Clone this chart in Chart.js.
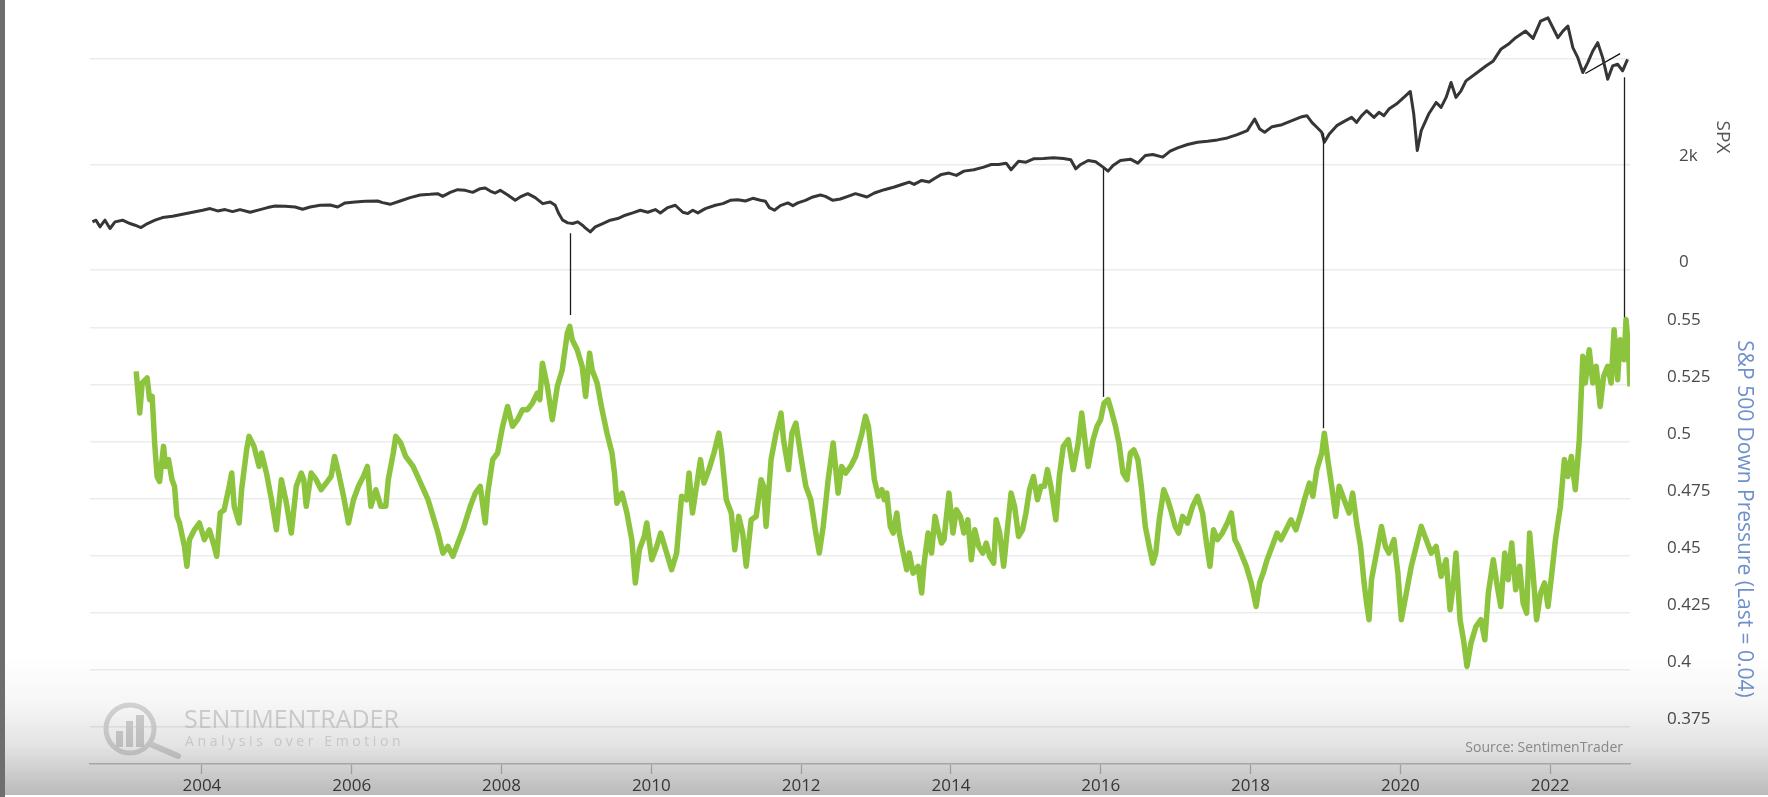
<!DOCTYPE html>
<html>
<head>
<meta charset="utf-8">
<title>SPX vs S&amp;P 500 Down Pressure</title>
<script src="https://cdn.jsdelivr.net/npm/chart.js@4.4.1/dist/chart.umd.min.js"></script>
<style>
html, body { margin: 0; padding: 0; background: #fff; }
#wrap { position: relative; width: 1768px; height: 797px; overflow: hidden; }
#chart-box { position: absolute; left: 0; top: 0; width: 1768px; height: 797px; }
#shade {
    position: absolute; left: 0; top: 655px; width: 1768px; height: 140px; pointer-events: none;
    background: linear-gradient(to bottom, rgba(0,0,0,0) 0%, rgba(0,0,0,0.035) 35%, rgba(0,0,0,0.11) 65%, rgba(0,0,0,0.27) 100%);
}
#edge { position: absolute; left: 0; top: 0; width: 5px; height: 797px; background: #6e6e6e; }
</style>
</head>
<body>
<div id="wrap">
    <div id="chart-box"><canvas id="chart"></canvas></div>
    <div id="shade"></div>
    <div id="edge"></div>
</div>
<script>
// x axis: decimal years
const yearTicks = [2004, 2006, 2008, 2010, 2012, 2014, 2016, 2018, 2020, 2022];

const spxTicks = [0, 2000, 4000];
const spxTickLabels = ["0", "2k", ""];

const pressureTicks = [0.375, 0.4, 0.425, 0.45, 0.475, 0.5, 0.525, 0.55];

// SPX
const spxYears = [
    2002.539, 2002.586, 2002.639, 2002.706, 2002.773, 2002.840, 2002.940, 2003.040, 2003.107, 2003.187,
    2003.274, 2003.374, 2003.474, 2003.608, 2003.741, 2003.875, 2004.009, 2004.109, 2004.209, 2004.309,
    2004.409, 2004.509, 2004.643, 2004.777, 2004.877, 2004.977, 2005.111, 2005.244, 2005.344, 2005.445,
    2005.578, 2005.712, 2005.812, 2005.912, 2006.046, 2006.179, 2006.346, 2006.413, 2006.513, 2006.647,
    2006.780, 2006.914, 2007.048, 2007.148, 2007.214, 2007.315, 2007.415, 2007.515, 2007.615, 2007.715,
    2007.782, 2007.849, 2007.916, 2007.983, 2008.083, 2008.183, 2008.250, 2008.350, 2008.450, 2008.550,
    2008.650, 2008.717, 2008.764, 2008.817, 2008.884, 2008.951, 2009.018, 2009.085, 2009.118, 2009.185,
    2009.252, 2009.352, 2009.452, 2009.552, 2009.652, 2009.752, 2009.853, 2009.953, 2010.053, 2010.120,
    2010.220, 2010.320, 2010.420, 2010.487, 2010.554, 2010.621, 2010.721, 2010.855, 2010.955, 2011.055,
    2011.155, 2011.255, 2011.355, 2011.456, 2011.523, 2011.576, 2011.643, 2011.723, 2011.823, 2011.890,
    2011.957, 2012.057, 2012.157, 2012.257, 2012.324, 2012.424, 2012.524, 2012.625, 2012.725, 2012.879,
    2012.978, 2013.111, 2013.244, 2013.376, 2013.443, 2013.509, 2013.609, 2013.708, 2013.775, 2013.874,
    2013.974, 2014.073, 2014.173, 2014.306, 2014.438, 2014.538, 2014.637, 2014.737, 2014.803, 2014.903,
    2015.002, 2015.102, 2015.235, 2015.367, 2015.500, 2015.600, 2015.666, 2015.733, 2015.832, 2015.932,
    2016.031, 2016.098, 2016.164, 2016.263, 2016.396, 2016.496, 2016.595, 2016.695, 2016.828, 2016.927,
    2017.027, 2017.159, 2017.292, 2017.425, 2017.558, 2017.690, 2017.823, 2017.956, 2018.055, 2018.122,
    2018.188, 2018.288, 2018.420, 2018.553, 2018.686, 2018.752, 2018.819, 2018.885, 2018.951, 2018.985,
    2019.051, 2019.151, 2019.250, 2019.350, 2019.416, 2019.483, 2019.549, 2019.648, 2019.715, 2019.781,
    2019.847, 2019.947, 2020.047, 2020.133, 2020.179, 2020.226, 2020.279, 2020.378, 2020.478, 2020.544,
    2020.611, 2020.677, 2020.743, 2020.810, 2020.876, 2021.009, 2021.142, 2021.241, 2021.341, 2021.440,
    2021.540, 2021.672, 2021.772, 2021.872, 2021.971, 2022.037, 2022.104, 2022.170, 2022.237, 2022.303,
    2022.369, 2022.436, 2022.502, 2022.569, 2022.635, 2022.701, 2022.768, 2022.834, 2022.901, 2022.967,
    2023.033
];
const spxValues = [
    912, 944, 818, 944, 786, 912, 944, 881, 849, 805,
    881, 944, 994, 1019, 1057, 1094, 1132, 1164, 1120, 1145,
    1107, 1145, 1094, 1145, 1183, 1214, 1208, 1195, 1151, 1195,
    1227, 1233, 1195, 1271, 1289, 1302, 1308, 1277, 1245, 1308,
    1371, 1422, 1434, 1447, 1396, 1472, 1522, 1510, 1472, 1541,
    1554, 1497, 1459, 1510, 1422, 1321, 1384, 1447, 1371, 1258,
    1289, 1227, 1069, 944, 893, 881, 912, 843, 799, 723,
    818, 881, 944, 975, 1038, 1082, 1132, 1094, 1145, 1082,
    1183, 1227, 1094, 1069, 1132, 1082, 1164, 1227, 1258, 1321,
    1333, 1308, 1359, 1321, 1302, 1183, 1132, 1220, 1271, 1220,
    1271, 1321, 1384, 1422, 1396, 1321, 1346, 1396, 1447, 1384,
    1459, 1522, 1573, 1635, 1667, 1623, 1698, 1667, 1730, 1812,
    1837, 1793, 1874, 1900, 1950, 2000, 2000, 2025, 1900, 2063,
    2044, 2107, 2113, 2126, 2113, 2088, 1918, 2000, 2076, 2051,
    1950, 1874, 1981, 2076, 2101, 2025, 2170, 2189, 2139, 2252,
    2315, 2378, 2422, 2441, 2466, 2503, 2566, 2642, 2862, 2673,
    2610, 2717, 2755, 2831, 2906, 2925, 2799, 2705, 2610, 2422,
    2579, 2736, 2818, 2893, 2799, 2925, 3019, 2893, 2988, 2925,
    3051, 3145, 3271, 3384, 2956, 2264, 2642, 2956, 3176, 3082,
    3271, 3554, 3271, 3397, 3585, 3724, 3868, 3963, 4183, 4277,
    4403, 4529, 4390, 4718, 4780, 4592, 4403, 4529, 4623, 4214,
    4026, 3743, 3931, 4151, 4309, 4026, 3617, 3868, 3900, 3774,
    3994
];

// short trend segment drawn on SPX near the end
const trendYears = [2022.469, 2022.934];
const trendValues = [3724, 4101];

// S&P 500 Down Pressure
const pressureYears = [
    2003.123, 2003.170, 2003.203, 2003.269, 2003.302, 2003.336, 2003.369, 2003.402, 2003.435, 2003.488,
    2003.515, 2003.555, 2003.601, 2003.634, 2003.667, 2003.701, 2003.767, 2003.800, 2003.833, 2003.900,
    2003.966, 2004.033, 2004.099, 2004.165, 2004.198, 2004.245, 2004.298, 2004.364, 2004.398, 2004.431,
    2004.497, 2004.530, 2004.597, 2004.630, 2004.696, 2004.763, 2004.796, 2004.862, 2004.929, 2004.995,
    2005.061, 2005.128, 2005.194, 2005.260, 2005.327, 2005.360, 2005.393, 2005.459, 2005.526, 2005.592,
    2005.659, 2005.725, 2005.771, 2005.825, 2005.891, 2005.957, 2006.024, 2006.090, 2006.156, 2006.209,
    2006.256, 2006.322, 2006.389, 2006.455, 2006.488, 2006.555, 2006.588, 2006.654, 2006.720, 2006.820,
    2006.920, 2007.019, 2007.086, 2007.152, 2007.218, 2007.285, 2007.351, 2007.417, 2007.484, 2007.583,
    2007.650, 2007.716, 2007.782, 2007.816, 2007.882, 2007.948, 2008.015, 2008.081, 2008.147, 2008.214,
    2008.280, 2008.346, 2008.413, 2008.479, 2008.512, 2008.546, 2008.612, 2008.678, 2008.745, 2008.811,
    2008.878, 2008.911, 2008.944, 2009.010, 2009.077, 2009.123, 2009.176, 2009.209, 2009.276, 2009.342,
    2009.408, 2009.475, 2009.508, 2009.541, 2009.608, 2009.674, 2009.740, 2009.787, 2009.840, 2009.906,
    2009.939, 2010.006, 2010.072, 2010.125, 2010.205, 2010.271, 2010.338, 2010.404, 2010.470, 2010.504,
    2010.550, 2010.603, 2010.656, 2010.703, 2010.769, 2010.836, 2010.902, 2010.935, 2011.001, 2011.068,
    2011.114, 2011.167, 2011.220, 2011.267, 2011.333, 2011.400, 2011.466, 2011.499, 2011.532, 2011.599,
    2011.665, 2011.731, 2011.765, 2011.831, 2011.877, 2011.930, 2011.997, 2012.063, 2012.129, 2012.196,
    2012.242, 2012.295, 2012.361, 2012.428, 2012.494, 2012.541, 2012.594, 2012.660, 2012.727, 2012.812,
    2012.859, 2012.898, 2012.945, 2012.978, 2013.031, 2013.078, 2013.111, 2013.144, 2013.190, 2013.230,
    2013.277, 2013.310, 2013.363, 2013.410, 2013.443, 2013.496, 2013.562, 2013.609, 2013.642, 2013.695,
    2013.741, 2013.788, 2013.828, 2013.874, 2013.907, 2013.974, 2014.027, 2014.073, 2014.126, 2014.173,
    2014.226, 2014.272, 2014.319, 2014.372, 2014.425, 2014.471, 2014.518, 2014.571, 2014.604, 2014.651,
    2014.704, 2014.757, 2014.803, 2014.850, 2014.903, 2014.956, 2015.002, 2015.049, 2015.102, 2015.155,
    2015.201, 2015.248, 2015.288, 2015.334, 2015.401, 2015.447, 2015.500, 2015.567, 2015.633, 2015.699,
    2015.746, 2015.799, 2015.832, 2015.898, 2015.951, 2015.998, 2016.044, 2016.098, 2016.151, 2016.197,
    2016.243, 2016.297, 2016.350, 2016.396, 2016.442, 2016.496, 2016.542, 2016.595, 2016.648, 2016.695,
    2016.735, 2016.781, 2016.841, 2016.894, 2016.947, 2016.993, 2017.040, 2017.093, 2017.159, 2017.226,
    2017.292, 2017.359, 2017.412, 2017.458, 2017.505, 2017.558, 2017.624, 2017.690, 2017.743, 2017.790,
    2017.836, 2017.889, 2017.943, 2018.009, 2018.075, 2018.122, 2018.168, 2018.221, 2018.288, 2018.354,
    2018.407, 2018.473, 2018.540, 2018.606, 2018.673, 2018.719, 2018.786, 2018.832, 2018.885, 2018.951,
    2018.985, 2019.031, 2019.084, 2019.137, 2019.183, 2019.250, 2019.316, 2019.363, 2019.416, 2019.469,
    2019.516, 2019.549, 2019.582, 2019.615, 2019.682, 2019.748, 2019.801, 2019.847, 2019.914, 2019.967,
    2020.013, 2020.080, 2020.146, 2020.212, 2020.279, 2020.345, 2020.412, 2020.478, 2020.544, 2020.611,
    2020.664, 2020.710, 2020.743, 2020.797, 2020.843, 2020.890, 2020.943, 2021.009, 2021.075, 2021.128,
    2021.175, 2021.241, 2021.294, 2021.341, 2021.394, 2021.440, 2021.487, 2021.540, 2021.593, 2021.639,
    2021.686, 2021.726, 2021.772, 2021.819, 2021.872, 2021.925, 2021.971, 2022.018, 2022.071, 2022.137,
    2022.190, 2022.237, 2022.283, 2022.336, 2022.389, 2022.436, 2022.469, 2022.522, 2022.569, 2022.615,
    2022.668, 2022.714, 2022.768, 2022.814, 2022.854, 2022.901, 2022.934, 2022.987, 2023.013, 2023.046,
    2023.066
];
const pressureValues = [
    0.5310, 0.5127, 0.5259, 0.5281, 0.5186, 0.5200, 0.4996, 0.4849, 0.4827, 0.4981,
    0.4893, 0.4923, 0.4835, 0.4806, 0.4674, 0.4645, 0.4542, 0.4455, 0.4572, 0.4615,
    0.4645, 0.4572, 0.4615, 0.4542, 0.4499, 0.4689, 0.4703, 0.4806, 0.4864, 0.4718,
    0.4645, 0.4791, 0.4966, 0.5025, 0.4981, 0.4893, 0.4952, 0.4864, 0.4747, 0.4615,
    0.4835, 0.4732, 0.4601, 0.4806, 0.4864, 0.4835, 0.4718, 0.4864, 0.4835, 0.4791,
    0.4820, 0.4849, 0.4937, 0.4864, 0.4762, 0.4645, 0.4747, 0.4806, 0.4849, 0.4893,
    0.4718, 0.4791, 0.4718, 0.4718, 0.4835, 0.4952, 0.5025, 0.4996, 0.4937, 0.4893,
    0.4820, 0.4747, 0.4674, 0.4601, 0.4513, 0.4542, 0.4499, 0.4557, 0.4615, 0.4718,
    0.4776, 0.4806, 0.4645, 0.4776, 0.4923, 0.4952, 0.5069, 0.5156, 0.5069, 0.5098,
    0.5142, 0.5142, 0.5171, 0.5215, 0.5186, 0.5346, 0.5244, 0.5098, 0.5244, 0.5317,
    0.5478, 0.5507, 0.5449, 0.5405, 0.5332, 0.5200, 0.5390, 0.5317, 0.5259, 0.5142,
    0.5039, 0.4952, 0.4864, 0.4732, 0.4776, 0.4689, 0.4572, 0.4382, 0.4528, 0.4586,
    0.4645, 0.4484, 0.4542, 0.4601, 0.4513, 0.4440, 0.4513, 0.4762, 0.4747, 0.4864,
    0.4689, 0.4806, 0.4923, 0.4820, 0.4879, 0.4952, 0.5039, 0.4966, 0.4747, 0.4689,
    0.4528, 0.4674, 0.4601, 0.4455, 0.4659, 0.4674, 0.4835, 0.4806, 0.4630, 0.4923,
    0.5039, 0.5127, 0.5010, 0.4879, 0.5039, 0.5083, 0.4937, 0.4806, 0.4747, 0.4601,
    0.4513, 0.4630, 0.4835, 0.4996, 0.4776, 0.4893, 0.4864, 0.4893, 0.4937, 0.5039,
    0.5113, 0.5069, 0.4937, 0.4835, 0.4762, 0.4791, 0.4747, 0.4776, 0.4630, 0.4601,
    0.4689, 0.4601, 0.4513, 0.4440, 0.4513, 0.4425, 0.4455, 0.4338, 0.4469, 0.4601,
    0.4513, 0.4674, 0.4615, 0.4557, 0.4572, 0.4776, 0.4601, 0.4703, 0.4674, 0.4601,
    0.4659, 0.4484, 0.4615, 0.4542, 0.4513, 0.4557, 0.4499, 0.4469, 0.4659, 0.4601,
    0.4455, 0.4630, 0.4776, 0.4718, 0.4586, 0.4615, 0.4689, 0.4791, 0.4849, 0.4747,
    0.4806, 0.4806, 0.4879, 0.4806, 0.4659, 0.4849, 0.4981, 0.5010, 0.4879, 0.4996,
    0.5127, 0.4981, 0.4893, 0.5010, 0.5069, 0.5098, 0.5171, 0.5186, 0.5127, 0.5069,
    0.4996, 0.4864, 0.4835, 0.4952, 0.4966, 0.4923, 0.4806, 0.4630, 0.4542, 0.4469,
    0.4513, 0.4659, 0.4791, 0.4747, 0.4689, 0.4630, 0.4601, 0.4674, 0.4645, 0.4718,
    0.4762, 0.4689, 0.4557, 0.4455, 0.4615, 0.4572, 0.4601, 0.4645, 0.4689, 0.4572,
    0.4542, 0.4499, 0.4455, 0.4382, 0.4279, 0.4382, 0.4425, 0.4484, 0.4542, 0.4601,
    0.4572, 0.4615, 0.4659, 0.4615, 0.4689, 0.4747, 0.4820, 0.4762, 0.4879, 0.4952,
    0.5039, 0.4923, 0.4806, 0.4674, 0.4806, 0.4747, 0.4689, 0.4776, 0.4645, 0.4542,
    0.4382, 0.4294, 0.4221, 0.4396, 0.4513, 0.4630, 0.4542, 0.4513, 0.4572, 0.4425,
    0.4221, 0.4338, 0.4455, 0.4542, 0.4630, 0.4572, 0.4513, 0.4542, 0.4411, 0.4484,
    0.4265, 0.4382, 0.4513, 0.4221, 0.4133, 0.4016, 0.4118, 0.4191, 0.4221, 0.4133,
    0.4338, 0.4484, 0.4367, 0.4279, 0.4513, 0.4396, 0.4557, 0.4352, 0.4455, 0.4294,
    0.4250, 0.4601, 0.4425, 0.4221, 0.4338, 0.4382, 0.4279, 0.4411, 0.4572, 0.4718,
    0.4923, 0.4849, 0.4937, 0.4791, 0.5010, 0.5376, 0.5259, 0.5405, 0.5259, 0.5332,
    0.5156, 0.5288, 0.5332, 0.5259, 0.5493, 0.5273, 0.5449, 0.5361, 0.5537, 0.5405,
    0.5244
];

// vertical connector lines: year, where they leave SPX, where they meet the pressure line
const markerYears = [2008.91, 2016.03, 2018.97, 2022.98];
const markerSpx = [696, 1928, 2590, 3653];
const markerPressure = [0.5557, 0.5198, 0.5060, 0.5547];

const FONT = "'Open Sans', 'Noto Sans', sans-serif";


function toPoints(xs, ys) {
    return xs.map((x, i) => ({x: x, y: ys[i]}));
}


const connectorLines = {
    id: "connectorLines",
    afterDatasetsDraw(chart) {
        const ctx = chart.ctx;
        const sx = chart.scales.x;
        ctx.save();
        ctx.strokeStyle = "#1e1e1e";
        ctx.lineWidth = 1.3;
        markerYears.forEach((yr, i) => {
            const px = Math.round(sx.getPixelForValue(yr)) + 0.5;
            ctx.beginPath();
            ctx.moveTo(px, chart.scales.spx.getPixelForValue(markerSpx[i]));
            ctx.lineTo(px, chart.scales.pressure.getPixelForValue(markerPressure[i]));
            ctx.stroke();
        });
        ctx.restore();
    }
};


// faint logo, watermark and source note
const decorations = {
    id: "decorations",
    beforeDatasetsDraw(chart) {
        const ctx = chart.ctx;
        const a = chart.chartArea;
        const cx = a.left + 40, cy = a.bottom - 35;
        ctx.save();
        ctx.strokeStyle = "#d9d9d9";
        ctx.lineWidth = 5;
        ctx.beginPath();
        ctx.arc(cx, cy, 24, 0, Math.PI * 2);
        ctx.stroke();
        ctx.lineWidth = 6;
        ctx.lineCap = "round";
        ctx.beginPath();
        ctx.moveTo(cx + 20, cy + 15);
        ctx.lineTo(cx + 48, cy + 27);
        ctx.stroke();
        ctx.fillStyle = "#d4d4d4";
        ctx.fillRect(cx - 14, cy + 2, 7, 16);
        ctx.fillRect(cx - 4, cy - 8, 7, 26);
        ctx.fillRect(cx + 6, cy - 14, 8, 32);

        ctx.textBaseline = "middle";
        ctx.textAlign = "left";
        ctx.fillStyle = "#d6d6d6";
        ctx.font = "25px " + FONT;
        ctx.fillText("SENTIMENTRADER", a.left + 94, a.bottom - 43);
        ctx.fillStyle = "#dedede";
        ctx.font = "14px " + FONT;
        ctx.letterSpacing = "3.6px";
        ctx.fillText("Analysis over Emotion", a.left + 95, a.bottom - 22);
        ctx.restore();
    },
    afterDraw(chart) {
        const ctx = chart.ctx;
        const a = chart.chartArea;
        ctx.save();
        ctx.fillStyle = "#9a9a9a";
        ctx.font = "14px " + FONT;
        ctx.textAlign = "right";
        ctx.textBaseline = "middle";
        ctx.fillText("Source: SentimenTrader", a.right - 7, a.bottom - 16);
        ctx.restore();
    }
};


const ctx = document.getElementById("chart").getContext("2d");

new Chart(ctx, {

    type: "line",

    data: {
        datasets: [
            {
                label: "SPX",
                data: toPoints(spxYears, spxValues),
                yAxisID: "spx",
                borderColor: "#363636",
                borderWidth: 3,
                pointRadius: 0,
                borderJoinStyle: "round"
            },
            {
                label: "trend",
                data: toPoints(trendYears, trendValues),
                yAxisID: "spx",
                borderColor: "#111111",
                borderWidth: 1.3,
                pointRadius: 0
            },
            {
                label: "S&P 500 Down Pressure",
                data: toPoints(pressureYears, pressureValues),
                yAxisID: "pressure",
                borderColor: "#8cc43d",
                borderWidth: 5.5,
                pointRadius: 0,
                borderJoinStyle: "round"
            }
        ]
    },

    options: {
        responsive: true,
        maintainAspectRatio: false,
        animation: false,
        events: [],
        layout: {padding: {left: 90, top: 0, right: 0, bottom: 0}},

        plugins: {
            legend: {display: false},
            tooltip: {enabled: false}
        },

        scales: {

            x: {
                type: "linear",
                min: 2002.506,
                max: 2023.066,
                afterBuildTicks: s => { s.ticks = yearTicks.map(v => ({value: v})); },
                afterFit: s => { s.height = 33; s.paddingLeft = 0; s.paddingRight = 0; },
                grid: {drawOnChartArea: false, tickLength: 10, tickColor: "#c4c4c4", tickWidth: 1.3},
                border: {color: "#c8c8c8", width: 1.5},
                ticks: {
                    color: "#4a4a4a",
                    font: {family: FONT, size: 17},
                    padding: 2,
                    maxRotation: 0,
                    autoSkip: false,
                    callback: v => String(v)
                }
            },

            spx: {
                type: "linear",
                position: "right",
                stack: "right",
                stackWeight: 274,
                min: -76,
                max: 5118,
                afterBuildTicks: s => { s.ticks = spxTicks.map(v => ({value: v})); },
                afterFit: s => { s.width = 138; s.paddingTop = 0; s.paddingBottom = 0; },
                grid: {color: "#ececec", lineWidth: 1.5, tickLength: 49, tickColor: "rgba(0,0,0,0)"},
                border: {display: false},
                ticks: {
                    color: "#4a4a4a",
                    font: {family: FONT, size: 17},
                    padding: 0,
                    labelOffset: -8,
                    autoSkip: false,
                    callback: (v, i) => spxTickLabels[i]
                },
                title: {
                    display: true,
                    text: "SPX",
                    color: "#555555",
                    font: {family: FONT, size: 19},
                    padding: {top: 34, bottom: 0}
                }
            },

            pressure: {
                type: "linear",
                position: "right",
                stack: "right",
                stackWeight: 490,
                min: 0.3588,
                max: 0.5737,
                afterBuildTicks: s => { s.ticks = pressureTicks.map(v => ({value: v})); },
                afterFit: s => { s.width = 138; s.paddingTop = 0; s.paddingBottom = 0; },
                grid: {color: "#ececec", lineWidth: 1.5, tickLength: 37, tickColor: "rgba(0,0,0,0)"},
                border: {display: false},
                ticks: {
                    color: "#4a4a4a",
                    font: {family: FONT, size: 17},
                    padding: 0,
                    labelOffset: -8,
                    autoSkip: false,
                    callback: v => String(+v.toFixed(3))
                },
                title: {
                    display: true,
                    text: "S&P 500 Down Pressure (Last = 0.04)",
                    color: "#6f90cc",
                    font: {family: FONT, size: 21},
                    padding: {top: 11, bottom: 0}
                }
            }
        }
    },

    plugins: [connectorLines, decorations]

});
</script>
</body>
</html>
